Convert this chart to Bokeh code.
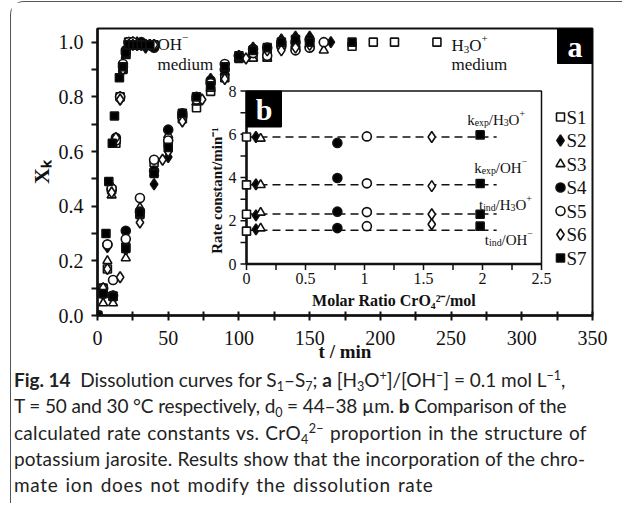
import math
import numpy as np
from bokeh.plotting import figure
from bokeh.models import Range1d, FixedTicker, Div, Spacer
from bokeh.layouts import column, row
from bokeh.embed import file_html
from bokeh.resources import INLINE
from bokeh.core.properties import value

NaN = float("nan")

# ---------------- data ----------------
SAMPLES = ["S1", "S2", "S3", "S4", "S5", "S6", "S7"]

# panel a : OH- medium (fast dissolution)
T_OH = [0, 7, 10, 13, 16, 18, 20, 22, 25, 28, 31, 34, 37, 40]
T_OH_S7 = [0, 6, 8, 10.5, 12, 15.5, 18, 20, 22, 25, 28, 31, 34, 37]
X_OH_S1 = [0, .17, .46, .63, .80, .90, .96, 1.00, .99, .99, .99, .99, .99, .99]
X_OH_S2 = [0, .25, .47, .64, .79, .91, .96, .99, 1.00, .99, .99, .98, .99, .99]
X_OH_S3 = [0, .20, .44, .64, .80, .90, .95, .99, .99, 1.00, .99, .99, .99, .99]
X_OH_S4 = [0, .26, .46, .65, .80, .91, .97, 1.00, .99, .99, 1.00, .99, .99, .98]
X_OH_S5 = [0, .26, .465, .64, .80, .92, .96, 1.00, 1.00, .99, .99, .99, .99, .99]
X_OH_S6 = [0, .17, .45, .65, .79, .90, .96, .99, .99, .99, .99, .99, .99, .99]
X_OH_S7 = [0, .30, .49, .63, .73, .87, .91, .96, .99, .99, .99, .99, .99, .99]

# panel a : H3O+ medium (slow dissolution)
T_H = [0, 4, 11, 20, 30, 40, 50, 60, 70, 80, 90, 100, 110, 120, 130, 140, 150,
       160, 165, 180, 195, 210, 240]
T_H_S6 = [0, 4, 16, 30, 46, 50, 60, 74, 90, 105, 120, 130, 140, 150]
X_H_S1 = [0, .10, .07, .25, .37, .56, .63, .72, .76, .82, .87, .94, .95, .95, .99, .98, .99,
          NaN, NaN, .985, 1.0, 1.0, 1.0]
X_H_S2 = [0, .08, .07, .24, .37, .48, .58, .73, .79, .865, .91, .95, .98, .97, 1.01, 1.02, 1.02,
          NaN, 1.0, NaN, NaN, NaN, NaN]
X_H_S3 = [0, .045, .045, .21, .395, .52, .66, .73, .78, .83, .89, .94, .94, .94, .99, .99, .99,
          .97, NaN, NaN, NaN, NaN, NaN]
X_H_S4 = [0, .08, .073, .31, .38, .53, .68, .74, .80, .86, .90, .95, .975, .98, 1.0, 1.0, 1.01,
          NaN, NaN, NaN, NaN, NaN, NaN]
X_H_S5 = [0, .10, .13, .28, .43, .57, .64, .73, .79, .85, .92, .95, .96, .95, .99, .97, .98,
          1.0, NaN, NaN, NaN, NaN, NaN]
X_H_S6 = [0, .10, .14, .34, .57, .60, .71, .79, .865, .94, .97, .97, .98, .99]
X_H_S7 = [0, .08, .07, .245, .375, .52, .615, .74, .80, .84, .91, .95, .97, .98, 1.0, 1.01, 1.0,
          NaN, NaN, 1.0, NaN, NaN, NaN]

X_TICKS = [0, 50, 100, 150, 200, 250, 300, 350]
X_MINOR = [25, 75, 125, 175, 225, 275, 325]
Y_TICKS = [0.0, 0.2, 0.4, 0.6, 0.8, 1.0]
Y_TICK_LABELS = ["0.0", "0.2", "0.4", "0.6", "0.8", "1.0"]
Y_MINOR = [0.1, 0.3, 0.5, 0.7, 0.9]

# panel b : rate constants vs molar ratio CrO4 2-
RATIO = [0, 0.08, 0.12, 0.77, 1.02, 1.57, 1.98]
K_EXP_H3O = [5.87, 5.87, 5.80, 5.60, 5.90, 5.87, 5.97]
K_EXP_OH = [3.66, 3.68, 3.66, 3.98, 3.73, 3.60, 3.72]
T_IND_H3O = [2.30, 2.25, 2.38, 2.42, 2.40, 2.30, 2.30]
T_IND_OH = [1.52, 1.60, 1.65, 1.66, 1.75, 1.84, 1.75]
MEAN_LEVELS = [5.87, 3.66, 2.31, 1.56]
LINE_END = 2.12
B_X_TICKS = [0, 0.5, 1, 1.5, 2, 2.5]
B_X_TICK_LABELS = ["0", "0.5", "1", "1.5", "2", "2.5"]
B_X_MINOR = [0.25, 0.75, 1.25, 1.75, 2.25]
B_Y_TICKS = [0, 2, 4, 6, 8]
B_Y_TICK_LABELS = ["0", "2", "4", "6", "8"]
B_Y_MINOR = [1, 3, 5, 7]

# ---------------- layout / style ----------------
SERIF = "Liberation Serif"
INK = "#111111"
ML, MR, MT, MB = 86, 30, 26, 52
FRAME_W, FRAME_H = 495, 287
X0, X1 = 0, 350
Y0, Y1 = 0, 1.05

# inset frame (frame-local pixels)
IN_L, IN_R, IN_T, IN_B = 149, 444, 62.5, 235.5
IX0, IX1 = 0, 2.5
IY0, IY1 = 0, 8
IPX = (IN_R - IN_L) / (IX1 - IX0)
IPY = (IN_B - IN_T) / (IY1 - IY0)

# legend (frame-local pixels)
LEG_X, LEG_Y0, LEG_DY = 463, 88.5, 23.5


def fx(px):
    return X0 + px / FRAME_W * (X1 - X0)


def fy(py):
    return Y0 + (FRAME_H - py) / FRAME_H * (Y1 - Y0)


MARKERS = {"S1": ("square", "white"), "S2": ("diamond", "black"),
           "S3": ("triangle", "white"), "S4": ("circle", "black"),
           "S5": ("circle", "white"), "S6": ("diamond", "white"),
           "S7": ("square", "black")}
SIZES = {"square": 8, "diamond": 11, "triangle": 9, "circle": 9}

p = figure(frame_width=FRAME_W, frame_height=FRAME_H, x_range=Range1d(X0, X1),
           y_range=Range1d(Y0, Y1), output_backend="svg", toolbar_location=None,
           min_border_left=ML, min_border_right=MR, min_border_top=MT, min_border_bottom=MB)
p.xgrid.visible = False
p.ygrid.visible = False
p.outline_line_color = INK
p.outline_line_width = 2
p.background_fill_color = "white"
p.border_fill_color = "white"

for ax in (p.xaxis[0], p.yaxis[0]):
    ax.axis_line_width = 2.5
    ax.axis_line_color = INK
    ax.major_tick_line_width = 2
    ax.minor_tick_line_width = 2
    ax.major_tick_line_color = INK
    ax.minor_tick_line_color = INK
    ax.major_label_text_font = SERIF
    ax.major_label_text_font_size = "20px"
    ax.major_label_text_color = INK
    ax.axis_label_text_font = SERIF
    ax.axis_label_text_font_style = "bold"
    ax.axis_label_text_color = INK

p.xaxis.ticker = FixedTicker(ticks=X_TICKS, minor_ticks=X_MINOR)
p.xaxis.major_tick_in = 4
p.xaxis.major_tick_out = 5
p.xaxis.minor_tick_in = 4
p.xaxis.minor_tick_out = 5
p.xaxis.major_label_standoff = 10
p.xaxis.axis_label = "t / min"
p.xaxis.axis_label_text_font_size = "19px"
p.xaxis.axis_label_standoff = -7

p.yaxis.ticker = FixedTicker(ticks=Y_TICKS, minor_ticks=Y_MINOR)
p.yaxis.major_label_overrides = {t: l for t, l in zip(Y_TICKS, Y_TICK_LABELS)}
p.yaxis.major_tick_in = 0
p.yaxis.major_tick_out = 6
p.yaxis.minor_tick_in = 0
p.yaxis.minor_tick_out = 6
p.yaxis.major_label_standoff = 8
p.yaxis.axis_label = "X\u2096"
p.yaxis.axis_label_text_font_size = "22px"
p.yaxis.axis_label_standoff = 2

# ---- panel a data ----
OH_SERIES = {"S1": (T_OH, X_OH_S1), "S2": (T_OH, X_OH_S2), "S3": (T_OH, X_OH_S3),
             "S4": (T_OH, X_OH_S4), "S5": (T_OH, X_OH_S5), "S6": (T_OH, X_OH_S6),
             "S7": (T_OH_S7, X_OH_S7)}
H_SERIES = {"S1": (T_H, X_H_S1), "S2": (T_H, X_H_S2), "S3": (T_H, X_H_S3),
            "S4": (T_H, X_H_S4), "S5": (T_H, X_H_S5), "S6": (T_H_S6, X_H_S6),
            "S7": (T_H, X_H_S7)}

for s in SAMPLES:
    mk, fill = MARKERS[s]
    for series in (H_SERIES, OH_SERIES):
        t, xk = series[s]
        p.scatter(np.array(t, float), np.array(xk, float), marker=mk, size=SIZES[mk],
                  fill_color=fill, line_color=INK, line_width=1.6)

# legend (drawn inside the frame)
for i, s in enumerate(SAMPLES):
    mk, fill = MARKERS[s]
    ly = fy(LEG_Y0 + i * LEG_DY)
    p.scatter([fx(LEG_X)], [ly], marker=mk, size=SIZES[mk], fill_color=fill,
              line_color=INK, line_width=1.6)
    p.text(x=[fx(LEG_X + 6)], y=[ly], text=[s], text_align="left", text_baseline="middle",
           text_font=value(SERIF), text_font_size="19px", text_color=INK)

# ---- inset (panel b) through extra ranges ----
p.extra_x_ranges = {"ix": Range1d(IX0 - IN_L / IPX, IX1 + (FRAME_W - IN_R) / IPX)}
p.extra_y_ranges = {"iy": Range1d(IY0 - (FRAME_H - IN_B) / IPY, IY1 + IN_T / IPY)}
IK = dict(x_range_name="ix", y_range_name="iy")

p.quad(left=[IX0], right=[IX1], bottom=[IY0], top=[IY1], fill_color="white",
       line_color=INK, line_width=1.5, **IK)
p.segment(x0=[IX0, IX0], y0=[IY0, IY0], x1=[IX1, IX0], y1=[IY0, IY1],
          line_color=INK, line_width=2.5, **IK)
ytk = B_Y_TICKS + B_Y_MINOR
p.segment(x0=[IX0] * len(ytk), x1=[IX0 - 6 / IPX] * len(ytk), y0=ytk, y1=ytk,
          line_color=INK, line_width=1.5, **IK)
xtk = B_X_TICKS + B_X_MINOR
p.segment(x0=xtk, x1=xtk, y0=[IY0] * len(xtk), y1=[IY0 - 6 / IPY] * len(xtk),
          line_color=INK, line_width=1.5, **IK)
p.text(x=B_X_TICKS, y=[IY0] * len(B_X_TICKS), text=B_X_TICK_LABELS, y_offset=9,
       text_align="center", text_baseline="top", text_font=value(SERIF),
       text_font_size="16px", text_color=INK, **IK)
p.text(x=[IX0] * len(B_Y_TICKS), y=B_Y_TICKS, text=B_Y_TICK_LABELS, x_offset=-10,
       text_align="right", text_baseline="middle", text_font=value(SERIF),
       text_font_size="16px", text_color=INK, **IK)
p.text(x=[(IX0 + IX1) / 2], y=[IY0], text=["Molar Ratio CrO\u2084\u00b2\u207b/mol"], y_offset=36,
       text_align="center", text_baseline="middle", text_font=value(SERIF),
       text_font_style="bold", text_font_size="16px", text_color=INK, **IK)
p.text(x=[IX0 - 30 / IPX], y=[3.4], text=["Rate constant/min\u207b\u00b9"], angle=math.pi / 2,
       text_align="center", text_baseline="middle", text_font=value(SERIF),
       text_font_style="bold", text_font_size="15px", text_color=INK, **IK)

for lvl in MEAN_LEVELS:
    p.segment(x0=[0], x1=[LINE_END], y0=[lvl], y1=[lvl], line_color=INK, line_width=1.5,
              line_dash="8 5", **IK)

for i, s in enumerate(SAMPLES):
    mk, fill = MARKERS[s]
    for arr in (K_EXP_H3O, K_EXP_OH, T_IND_H3O, T_IND_OH):
        p.scatter([RATIO[i]], [arr[i]], marker=mk, size=SIZES[mk], fill_color=fill,
                  line_color=INK, line_width=1.6, **IK)

# "b" badge
p.quad(left=[IX0], right=[IX0 + 35 / IPX], bottom=[IY1 - 36 / IPY], top=[IY1],
       fill_color="black", line_color="black", **IK)
p.text(x=[IX0 + 17.5 / IPX], y=[IY1 - 18 / IPY], text=["b"], text_align="center",
       text_baseline="middle", text_font=value(SERIF), text_font_style="bold",
       text_font_size="30px", text_color="white", **IK)

# "a" badge
p.quad(left=[fx(460)], right=[X1], bottom=[fy(35)], top=[Y1], fill_color="black",
       line_color="black")
p.text(x=[fx(477.5)], y=[fy(17.5)], text=["a"], text_align="center", text_baseline="middle",
       text_font=value(SERIF), text_font_style="bold", text_font_size="30px",
       text_color="white")

# rich text helper (pieces with sub / superscripts)
W = {'k': .5, 'e': .444, 'x': .5, 'p': .5, '/': .278, 'H': .722, 'O': .722, '3': .5,
     '+': .564, 't': .278, 'i': .278, 'n': .5, 'd': .5, '\u2212': .564, 'm': .778, 'u': .5}


def rich(x, y, pieces, size, **kw):
    cur = 0.0
    for s, sc, dy in pieces:
        fs = size * sc
        p.text(x=[x], y=[y], text=[s], x_offset=cur, y_offset=dy, text_font=value(SERIF),
               text_font_size=f"{fs:.1f}px", text_color=INK, text_align="left",
               text_baseline="alphabetic", **kw)
        cur += sum(W.get(c, 0.5) for c in s) * fs


rich(1.87, 6.66, [("k", 1, 0), ("exp", .65, 3), ("/H", 1, 0), ("3", .65, 3), ("O", 1, 0),
                  ("+", .65, -6)], 15, **IK)
rich(1.93, 4.44, [("k", 1, 0), ("exp", .65, 3), ("/OH", 1, 0), ("\u2212", .65, -6)], 15, **IK)
rich(1.97, 2.73, [("t", 1, 0), ("ind", .65, 3), ("/H", 1, 0), ("3", .65, 3), ("O", 1, 0),
                  ("+", .65, -6)], 15, **IK)
rich(2.02, 1.11, [("t", 1, 0), ("ind", .65, 3), ("/OH", 1, 0), ("\u2212", .65, -6)], 15, **IK)

# medium annotations in panel a
rich(fx(60), fy(16), [("OH", 1, 0), ("\u2212", .65, -7)], 17)
rich(fx(60), fy(36), [("medium", 1, 0)], 17)
rich(fx(354), fy(17), [("H", 1, 0), ("3", .65, 4), ("O", 1, 0), ("+", .65, -7)], 17)
rich(fx(354), fy(36), [("medium", 1, 0)], 17)

# ---------------- caption ----------------
def sub(s):
    return (f'<span style="font-size:66%;line-height:0;position:relative;top:0.32em;">'
            f'{s}</span>')


def sup(s):
    return (f'<span style="font-size:66%;line-height:0;position:relative;top:-0.55em;">'
            f'{s}</span>')


CAPTION_LINES = [
    ('-0.02px', '0px', f'<b>Fig.&nbsp;14</b>&nbsp; Dissolution curves for S{sub("1")}&ndash;S{sub("7")}; '
                       f'<b>a</b> [H{sub("3")}O{sup("+")}]/[OH{sup("&minus;")}] = 0.1 mol L{sup("&minus;1")},'),
    ('-0.12px', '0px', f'T = 50 and 30 &deg;C respectively, d{sub("0")} = 44&ndash;38 &micro;m. '
                       f'<b>b</b> Comparison of the'),
    ('0.3px', '1px', f'calculated rate constants vs. CrO{sub("4")}{sup("2&minus;")} proportion in the structure of'),
    ('0.18px', '0px', 'potassium jarosite. Results show that the incorporation of the chro-'),
    ('0.7px', '1.5px', 'mate ion does not modify the dissolution rate'),
]
html = ('<div style="font-family:Lato, sans-serif; font-size:19px; line-height:26.3px; '
        'color:#222; white-space:nowrap; padding:0 0 0 3px;">')
for ls, ws, line in CAPTION_LINES:
    html += (f'<div style="height:26.3px;overflow:visible;letter-spacing:{ls};'
             f'word-spacing:{ws};">{line}</div>')
html += '</div>'
div = Div(text=html, width=608, height=136, margin=0)

boxed = column(p, div, margin=0,
               styles={"border-left": "1.5px solid #555", "border-top": "1.5px solid #555",
                       "border-top-left-radius": "14px"})
layout = column(Spacer(height=1, width=10, margin=0),
                row(Spacer(width=10, height=10, margin=0), boxed, margin=0), margin=0)

open("out.html", "w").write(file_html(layout, INLINE))
